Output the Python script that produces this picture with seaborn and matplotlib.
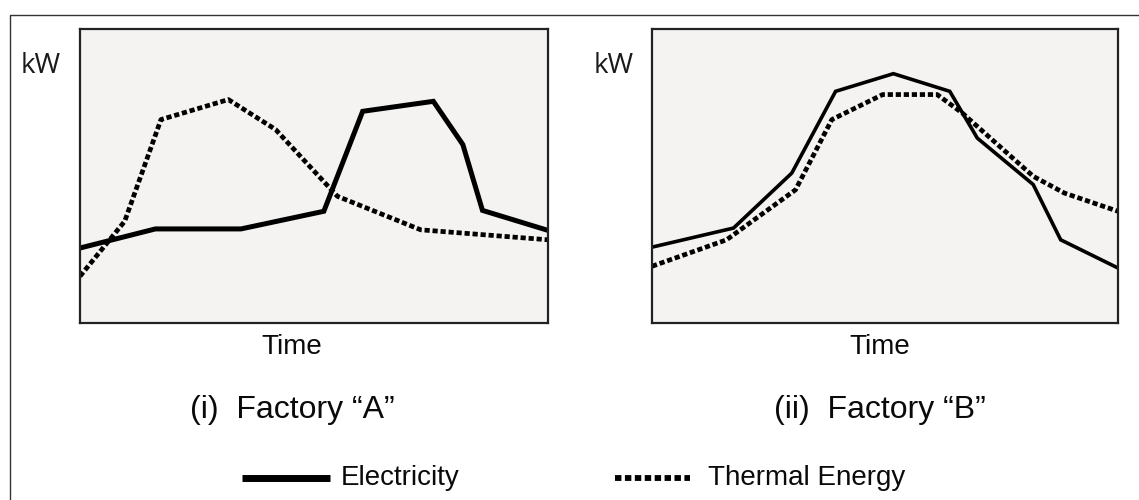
import numpy as np
import pandas as pd
import matplotlib
matplotlib.use("Agg")
import matplotlib.pyplot as plt
from matplotlib.lines import Line2D
import seaborn as sns

# time is shown without units, so both axes run 0..1
elec_a_t = [0.0, 0.161, 0.344, 0.521, 0.604, 0.755, 0.818, 0.860, 1.0]
elec_a_kw = [0.255, 0.32, 0.32, 0.38, 0.72, 0.754, 0.607, 0.383, 0.315]
therm_a_t = [0.0, 0.0955, 0.173, 0.317, 0.418, 0.55, 0.728, 1.0]
therm_a_kw = [0.159, 0.346, 0.692, 0.76, 0.658, 0.431, 0.317, 0.283]

elec_b_t = [0.0, 0.175, 0.300, 0.394, 0.518, 0.639, 0.698, 0.818, 0.877, 1.0]
elec_b_kw = [0.258, 0.323, 0.510, 0.788, 0.848, 0.788, 0.629, 0.471, 0.283, 0.187]
therm_b_t = [0.0, 0.160, 0.308, 0.386, 0.495, 0.612, 0.666, 0.818, 0.885, 1.0]
therm_b_kw = [0.193, 0.283, 0.453, 0.692, 0.777, 0.777, 0.714, 0.499, 0.442, 0.380]

captions = ['(i)  Factory \u201cA\u201d', '(ii)  Factory \u201cB\u201d']
legend_labels = ['Electricity', 'Thermal Energy']

sns.set_theme(style="white")
plt.rcParams['font.family'] = ['Liberation Sans', 'DejaVu Sans']

fig = plt.figure(figsize=(11.39, 5.0), dpi=100)
fig.patch.set_facecolor('white')

# outer frame (only top and left edges are visible)
fx, fy = 10 / 1139, 1 - 15 / 500
fig.add_artist(Line2D([fx, fx, 1.0], [0.0, fy, fy], transform=fig.transFigure,
                      color='#333333', lw=1.0))

panels = [
    (80, 468, elec_a_t, elec_a_kw, therm_a_t, therm_a_kw, 3.6, 41, 292),
    (652, 466, elec_b_t, elec_b_kw, therm_b_t, therm_b_kw, 2.6, 614, 880),
]

for i, (x0, w, et, ek, tt, tk, elw, kwx, capx) in enumerate(panels):
    ax = fig.add_axes([x0 / 1139, (500 - 323) / 500, w / 1139, 294 / 500])
    ax.set_facecolor('#f4f3f1')
    elec = pd.DataFrame({'t': et, 'kw': ek})
    therm = pd.DataFrame({'t': tt, 'kw': tk})
    sns.lineplot(data=elec, x='t', y='kw', ax=ax, color='black', lw=elw,
                 solid_joinstyle='miter')
    sns.lineplot(data=therm, x='t', y='kw', ax=ax, color='black', lw=3.4,
                 dashes=False)
    ax.lines[-1].set_dashes((1.1, 0.6))
    ax.lines[-1].set_dash_capstyle('butt')
    ax.set_xlim(0, 1)
    ax.set_ylim(0, 1)
    ax.set_xticks([])
    ax.set_yticks([])
    ax.set_xlabel('')
    ax.set_ylabel('')
    for s in ax.spines.values():
        s.set_color('#222222')
        s.set_linewidth(1.6)
        s.set_visible(True)

    fig.text(kwx / 1139, 1 - 66 / 500, 'kW', family=['Open Sans', 'DejaVu Sans'],
             fontsize=20, ha='center', va='center', color='#1a1a1a')
    fig.text(capx / 1139, 1 - 347 / 500, 'Time', fontsize=20,
             ha='center', va='center', color='#0a0a0a')
    fig.text(capx / 1139, 1 - 410 / 500, captions[i], fontsize=23,
             ha='center', va='center', color='#0a0a0a')

# legend drawn as figure lines + text
leg_solid = Line2D([242 / 1139, 330 / 1139], [1 - 478 / 500] * 2,
                   transform=fig.transFigure, color='black', lw=5)
leg_solid.set_solid_capstyle('butt')
fig.add_artist(leg_solid)
fig.text(341 / 1139, 1 - 478 / 500, legend_labels[0], fontsize=20,
         ha='left', va='center', color='#0a0a0a')
leg_dot = Line2D([615 / 1139, 690 / 1139], [1 - 478 / 500] * 2,
                 transform=fig.transFigure, color='black', lw=4.2)
leg_dot.set_dashes((1.1, 0.6))
leg_dot.set_dash_capstyle('butt')
fig.add_artist(leg_dot)
fig.text(708 / 1139, 1 - 478 / 500, legend_labels[1], fontsize=20,
         ha='left', va='center', color='#0a0a0a')

fig.savefig('out.png', dpi=100, facecolor='white')
